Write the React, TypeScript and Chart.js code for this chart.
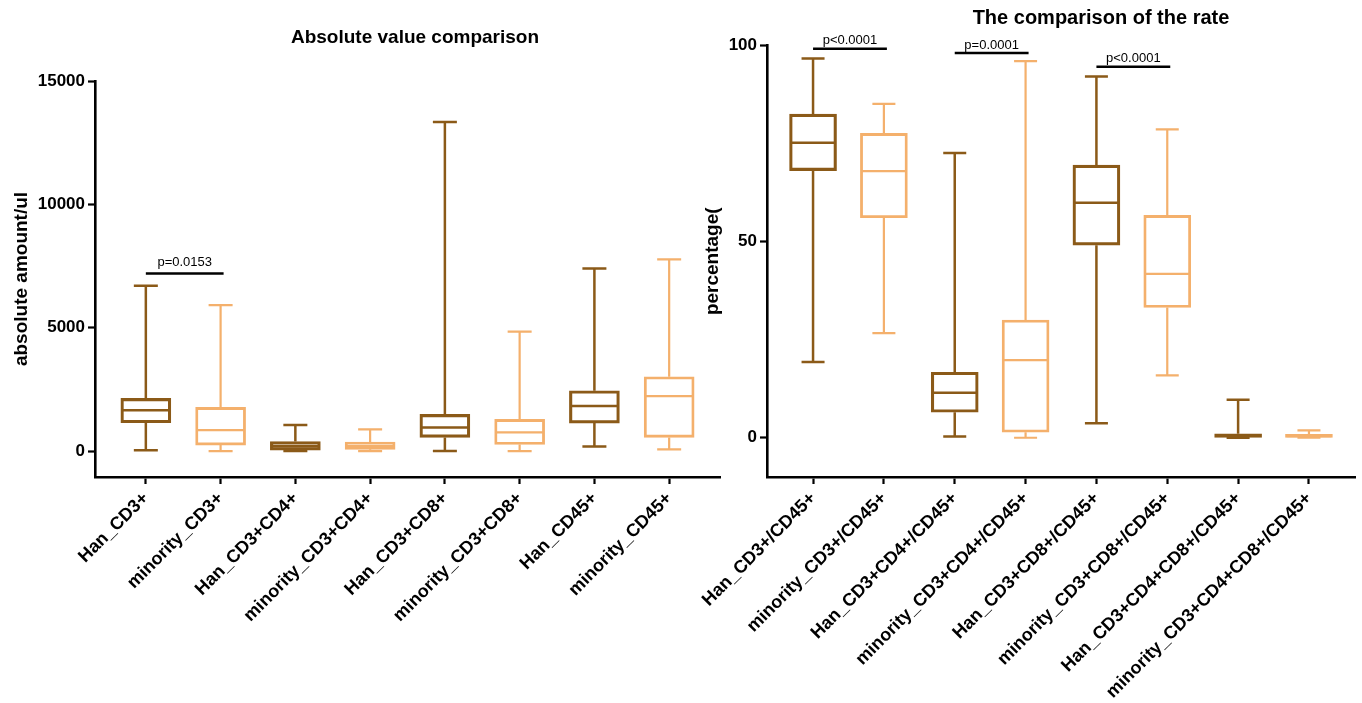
import React, { useEffect, useRef } from 'react';
import { Chart, registerables } from 'chart.js';

Chart.register(...registerables);

const FONT = '"Liberation Sans", Arial, Helvetica, sans-serif';
const HAN_COLOR = '#8B5A18';
const MINORITY_COLOR = '#F4B06C';

// ---------- Left chart: absolute values ----------
const absCategories = ['Han_CD3+', 'minority_CD3+', 'Han_CD3+CD4+', 'minority_CD3+CD4+', 'Han_CD3+CD8+', 'minority_CD3+CD8+', 'Han_CD45+', 'minority_CD45+'];
const absMin = [30, 0, 0, 0, 0, 0, 190, 70];
const absQ1 = [1150, 245, 40, 70, 555, 270, 1135, 555];
const absMedian = [1660, 850, 200, 200, 960, 760, 1825, 2230];
const absQ3 = [2135, 1770, 385, 365, 1490, 1285, 2445, 3010];
const absMax = [6700, 5920, 1055, 880, 13340, 4840, 7405, 7770];
const absYTicks = [0, 5000, 10000, 15000];
const absSigFrom = [0];
const absSigTo = [1];
const absSigY = [7200];
const absSigText = ['p=0.0153'];

// ---------- Right chart: rates ----------
const rateCategories = ['Han_CD3+/CD45+', 'minority_CD3+/CD45+', 'Han_CD3+CD4+/CD45+', 'minority_CD3+CD4+/CD45+', 'Han_CD3+CD8+/CD45+', 'minority_CD3+CD8+/CD45+', 'Han_CD3+CD4+CD8+/CD45+', 'minority_CD3+CD4+CD8+/CD45+'];
const rateMin = [19.3, 26.7, 0.3, 0, 3.7, 15.9, 0, 0];
const rateQ1 = [68.1, 56.1, 6.5, 1.4, 49.1, 33.2, 0.1, 0.1];
const rateMedian = [75.2, 68.0, 11.5, 19.8, 59.9, 41.8, 0.5, 0.4];
const rateQ3 = [82.5, 77.6, 16.7, 30.0, 69.5, 56.7, 1.0, 0.9];
const rateMax = [96.7, 85.1, 72.6, 96.0, 92.1, 78.6, 9.7, 1.9];
const rateYTicks = [0, 50, 100];
const rateSigFrom = [0, 2, 4];
const rateSigTo = [1, 3, 5];
const rateSigY = [99.2, 98.1, 94.6];
const rateSigText = ['p<0.0001', 'p=0.0001', 'p<0.0001'];

type Cfg = {
  title: string;
  titleSize: number;
  titleX: number;
  titleY: number;
  yTitle: string;
  yTitlePad: number;
  cats: string[];
  min: number[];
  q1: number[];
  median: number[];
  q3: number[];
  max: number[];
  yTicks: number[];
  yMin: number;
  yMax: number;
  sigFrom: number[];
  sigTo: number[];
  sigY: number[];
  sigText: string[];
  sigOffset: number;
  boxWidth: number;
  capWidth: number;
  yAxisWidth: number;
  padTop: number;
  padRight: number;
  xPad: number;
};

const colorsFor = (cats: string[]) => cats.map((c) => (c.startsWith('Han') ? HAN_COLOR : MINORITY_COLOR));
const widthsFor = (cats: string[]) => cats.map((c) => (c.startsWith('Han') ? 2.5 : 2.2));

function makePlugin(cfg: Cfg) {
  return {
    id: 'boxWhiskers',
    afterDatasetsDraw(chart: any) {
      const { ctx } = chart;
      const xs = chart.scales.x;
      const ys = chart.scales.y;
      const colors = colorsFor(cfg.cats);
      const lws = widthsFor(cfg.cats);
      ctx.save();
      ctx.lineCap = 'butt';
      cfg.cats.forEach((_, i) => {
        const cx = xs.getPixelForValue(i);
        const lw = lws[i];
        const half = cfg.boxWidth / 2;
        const capHalf = cfg.capWidth / 2;
        const pMin = ys.getPixelForValue(cfg.min[i]);
        const pQ1 = ys.getPixelForValue(cfg.q1[i]);
        const pMed = ys.getPixelForValue(cfg.median[i]);
        const pQ3 = ys.getPixelForValue(cfg.q3[i]);
        const pMax = ys.getPixelForValue(cfg.max[i]);
        ctx.strokeStyle = colors[i];
        ctx.lineWidth = lw;
        ctx.beginPath();
        ctx.moveTo(cx - half + lw / 2, pMed);
        ctx.lineTo(cx + half - lw / 2, pMed);
        ctx.moveTo(cx, pQ3);
        ctx.lineTo(cx, pMax);
        ctx.moveTo(cx - capHalf, pMax);
        ctx.lineTo(cx + capHalf, pMax);
        ctx.moveTo(cx, pQ1);
        ctx.lineTo(cx, pMin);
        ctx.moveTo(cx - capHalf, pMin);
        ctx.lineTo(cx + capHalf, pMin);
        ctx.stroke();
      });
      ctx.strokeStyle = '#000';
      ctx.fillStyle = '#000';
      ctx.lineWidth = 2.5;
      ctx.font = `13px ${FONT}`;
      ctx.textAlign = 'center';
      ctx.textBaseline = 'middle';
      cfg.sigFrom.forEach((f, i) => {
        const x1 = xs.getPixelForValue(f);
        const x2 = xs.getPixelForValue(cfg.sigTo[i]) + 3;
        const py = ys.getPixelForValue(cfg.sigY[i]);
        ctx.beginPath();
        ctx.moveTo(x1, py);
        ctx.lineTo(x2, py);
        ctx.stroke();
        ctx.fillText(cfg.sigText[i], (x1 + x2) / 2, py - cfg.sigOffset);
      });
      ctx.font = `bold ${cfg.titleSize}px ${FONT}`;
      ctx.fillText(cfg.title, cfg.titleX, cfg.titleY);
      ctx.restore();
    },
  };
}

function buildConfig(cfg: Cfg): any {
  const n = cfg.cats.length;
  return {
    type: 'bar',
    data: {
      datasets: [
        {
          data: cfg.cats.map((_, i) => ({ x: i, y: [cfg.q1[i], cfg.q3[i]] })),
          backgroundColor: 'rgba(255,255,255,0)',
          borderColor: colorsFor(cfg.cats),
          borderWidth: widthsFor(cfg.cats),
          borderSkipped: false,
          barThickness: cfg.boxWidth,
          grouped: false,
        },
      ],
    },
    options: {
      animation: false,
      responsive: false,
      devicePixelRatio: 1,
      events: [],
      layout: { padding: { top: cfg.padTop, right: cfg.padRight, left: 0, bottom: 0 } },
      plugins: {
        legend: { display: false },
        tooltip: { enabled: false },
        title: { display: false },
      },
      scales: {
        x: {
          type: 'linear',
          min: -cfg.xPad,
          max: n - 1 + cfg.xPad,
          offset: false,
          afterBuildTicks: (scale: any) => {
            scale.ticks = cfg.cats.map((_, i) => ({ value: i }));
          },
          afterFit: (scale: any) => {
            scale.height = 226;
          },
          grid: { display: true, offset: false, drawOnChartArea: false, drawTicks: true, tickLength: 7, tickWidth: 2.2, color: '#000' },
          border: { display: true, color: '#000', width: 2.6 },
          ticks: {
            autoSkip: false,
            minRotation: 45,
            maxRotation: 45,
            padding: 4,
            color: '#000',
            font: { family: FONT, size: 18, weight: 'bold' },
            callback: (_v: any, idx: number) => cfg.cats[idx],
          },
        },
        y: {
          type: 'linear',
          min: cfg.yMin,
          max: cfg.yMax,
          afterBuildTicks: (scale: any) => {
            scale.ticks = cfg.yTicks.map((v) => ({ value: v }));
          },
          afterFit: (scale: any) => {
            scale.width = cfg.yAxisWidth;
          },
          grid: { display: true, drawOnChartArea: false, drawTicks: true, tickLength: 7, tickWidth: 2.2, color: '#000' },
          border: { display: true, color: '#000', width: 2.6 },
          ticks: {
            padding: 3,
            color: '#000',
            font: { family: FONT, size: 17, weight: 'bold' },
            callback: (v: any) => String(v),
          },
          title: {
            display: true,
            text: cfg.yTitle,
            color: '#000',
            font: { family: FONT, size: 19, weight: 'bold' },
            padding: { top: cfg.yTitlePad, bottom: 0 },
          },
        },
      },
    },
    plugins: [makePlugin(cfg)],
  };
}

const leftCfg: Cfg = {
  title: 'Absolute value comparison',
  titleSize: 19,
  titleX: 415,
  titleY: 38,
  yTitle: 'absolute amount/ul',
  yTitlePad: 10.6,
  cats: absCategories,
  min: absMin,
  q1: absQ1,
  median: absMedian,
  q3: absQ3,
  max: absMax,
  yTicks: absYTicks,
  yMin: -1050,
  yMax: 15000,
  sigFrom: absSigFrom,
  sigTo: absSigTo,
  sigY: absSigY,
  sigText: absSigText,
  sigOffset: 11,
  boxWidth: 50,
  capWidth: 24,
  yAxisWidth: 95,
  padTop: 81,
  padRight: 5,
  xPad: 0.68,
};

const rightCfg: Cfg = {
  title: 'The comparison of the rate',
  titleSize: 20,
  titleX: 411,
  titleY: 18,
  yTitle: 'percentage(',
  yTitlePad: 11.6,
  cats: rateCategories,
  min: rateMin,
  q1: rateQ1,
  median: rateMedian,
  q3: rateQ3,
  max: rateMax,
  yTicks: rateYTicks,
  yMin: -10,
  yMax: 100,
  sigFrom: rateSigFrom,
  sigTo: rateSigTo,
  sigY: rateSigY,
  sigText: rateSigText,
  sigOffset: 8,
  boxWidth: 47,
  capWidth: 23,
  yAxisWidth: 77,
  padTop: 45.5,
  padRight: 7,
  xPad: 0.65,
};

function BoxChart({ cfg, left, width }: { cfg: Cfg; left: number; width: number }) {
  const ref = useRef<HTMLCanvasElement>(null);
  useEffect(() => {
    const chart = new Chart(ref.current as HTMLCanvasElement, buildConfig(cfg));
    return () => chart.destroy();
  }, [cfg]);
  return (
    <canvas
      ref={ref}
      width={width}
      height={703}
      style={{ position: 'absolute', left, top: 0, width, height: 703 }}
    />
  );
}

export default function App() {
  return (
    <div style={{ position: 'fixed', left: 0, top: 0, width: 1362, height: 703, background: '#fff', overflow: 'hidden' }}>
      <BoxChart cfg={leftCfg} left={0} width={725} />
      <BoxChart cfg={rightCfg} left={690} width={672} />
    </div>
  );
}
